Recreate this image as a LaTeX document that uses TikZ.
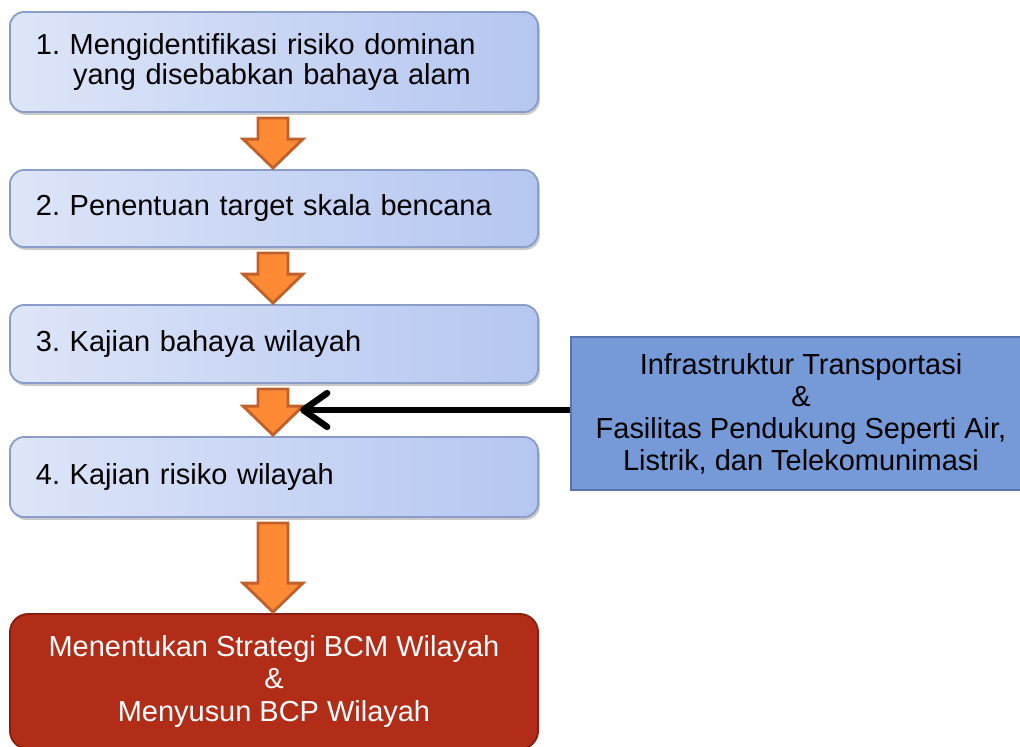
\documentclass[tikz,border=0pt]{standalone}
\usepackage{fontspec}
\setmainfont{Liberation Sans}
\frenchspacing
\usetikzlibrary{calc,arrows.meta,shadows}

\definecolor{stepL}{HTML}{DDE5F8}
\definecolor{stepR}{HTML}{B5C6F0}
\definecolor{stepEdge}{HTML}{8A9CC8}
\definecolor{arrowFill}{HTML}{FF8A36}
\definecolor{arrowEdge}{HTML}{C0612A}
\definecolor{infoFill}{HTML}{7699D7}
\definecolor{infoEdge}{HTML}{5A75AE}
\definecolor{goalFill}{HTML}{B22D18}
\definecolor{goalEdge}{HTML}{8A1E0E}

\tikzset{
  stepbox/.style={rectangle, rounded corners=10pt, draw=stepEdge, line width=1.3pt,
    left color=stepL, right color=stepR,
    drop shadow={shadow xshift=1.2pt, shadow yshift=-2pt, fill=black!30, opacity=0.7},
    minimum width=13.2cm, text width=11.9cm, inner xsep=0.65cm, align=left,
    font=\fontsize{20.6pt}{21.3pt}\selectfont},
  infobox/.style={rectangle, draw=infoEdge, line width=1.3pt, fill=infoFill,
    minimum width=11.5cm, minimum height=3.825cm, align=center,
    font=\fontsize{20.6pt}{22.8pt}\selectfont},
  goalbox/.style={rectangle, rounded corners=13pt, draw=goalEdge, line width=1.3pt, fill=goalFill,
    minimum width=13.2cm, text=white, align=center,
    font=\fontsize{20.6pt}{22.8pt}\selectfont},
  blockarrow/.style={fill=arrowFill, draw=arrowEdge, line width=2pt, line join=miter},
  feed/.style={line width=4.6pt, -{Straight Barb[length=17pt, width=24pt, line cap=round, line join=round]}}
}

% orange block arrow from the bottom of one step to the top of the next
\newcommand\flowarrow[2]{%
  \draw[blockarrow] let \p1=(#1.south), \p2=(#2.north) in
    (273*0.025cm-10.67pt,\y1-3.6pt) -- (273*0.025cm+10.67pt,\y1-3.6pt)
    -- (273*0.025cm+10.67pt,\y2+21.3pt) -- (273*0.025cm+21.3pt,\y2+21.3pt)
    -- (273*0.025cm,\y2+0.7pt) -- (273*0.025cm-21.3pt,\y2+21.3pt)
    -- (273*0.025cm-10.67pt,\y2+21.3pt) -- cycle;}

\begin{document}
\begin{tikzpicture}[x=0.025cm, y=-0.025cm]
\useasboundingbox (0,0) rectangle (1020,747);

\node[stepbox, minimum height=2.5cm] (s1) at (274,62)
  {1. Mengidentifikasi risiko dominan\\\hspace*{0.93cm}yang disebabkan bahaya alam};
\node[stepbox, minimum height=1.925cm] (s2) at (274,208.5) {2. Penentuan target skala bencana};
\node[stepbox, minimum height=1.95cm] (s3) at (274,344) {3. Kajian bahaya wilayah};
\node[stepbox, minimum height=2.0cm] (s4) at (274,477) {4. Kajian risiko wilayah};

\node[goalbox, minimum height=3.375cm] (goal) at (274,681.5)
  {Menentukan Strategi BCM Wilayah\\\&\\Menyusun BCP Wilayah};

\node[infobox] (infra) at (801,413.5)
  {Infrastruktur Transportasi\\\&\\Fasilitas Pendukung Seperti Air,\\Listrik, dan Telekomunimasi};

\flowarrow{s1}{s2}
\flowarrow{s2}{s3}
\flowarrow{s3}{s4}
\flowarrow{s4}{goal}

\coordinate (inlet) at (300,410);
\draw[feed] (infra.west |- inlet) -- (inlet);
\end{tikzpicture}
\end{document}
